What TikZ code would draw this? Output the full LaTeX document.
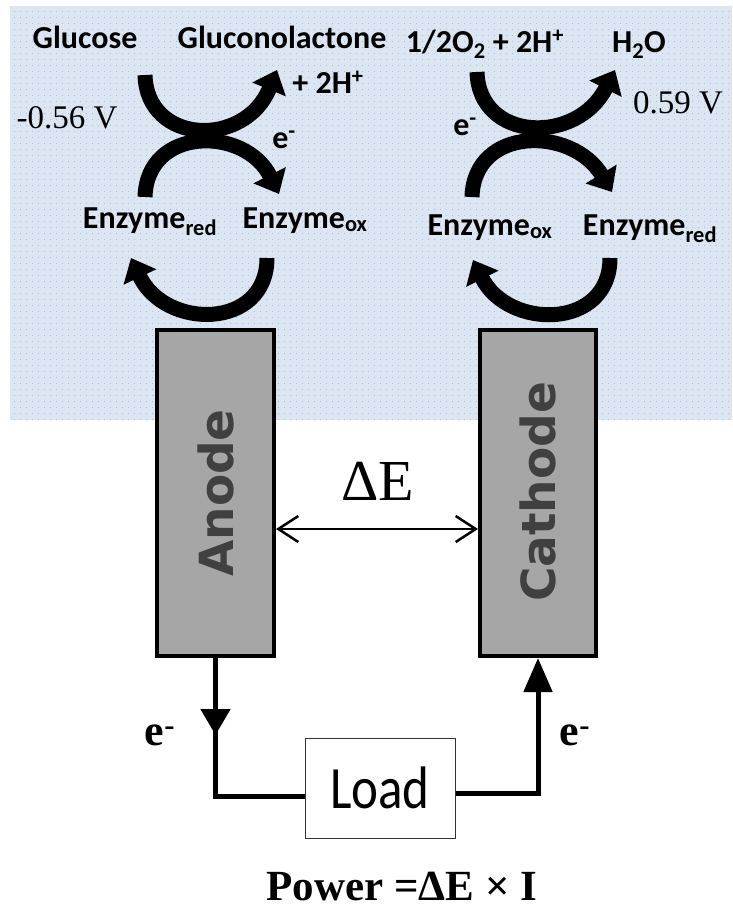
\documentclass[tikz,border=0pt]{standalone}
\usepackage{fontspec}
\setmainfont{Liberation Serif}
\newfontfamily\calfont{Carlito}
\newfontfamily\dvfont{DejaVu Sans}
\usetikzlibrary{arrows.meta,patterns.meta,calc,decorations.markings}
\definecolor{bgblue}{RGB}{220,230,242}
\definecolor{dotblue}{RGB}{150,178,218}
\definecolor{boxgray}{RGB}{166,166,166}
\definecolor{txtgray}{RGB}{64,64,64}
\tikzdeclarepattern{name=bgdots,type=uncolored,bottom left={(0pt,0pt)},top right={(6pt,6pt)},tile size={(6pt,6pt)},code={\fill (3pt,3pt) circle (0.55pt);}}
\begin{document}
\begin{tikzpicture}[x=1pt,y=-1pt,
  bigarrow/.style={line width=15pt,-{Triangle[length=21pt,width=35pt]}},
  elec/.style={draw=black,line width=4pt,fill=boxgray,minimum height=326pt,inner sep=0pt},
  eltext/.style={font=\dvfont\bfseries\fontsize{47}{50}\selectfont,text=txtgray,rotate=90},
  lbl/.style={font=\calfont\bfseries\fontsize{32}{36}\selectfont,anchor=base,inner sep=0pt},
  volt/.style={font=\fontsize{33}{36}\selectfont,anchor=base,inner sep=0pt},
  elab/.style={font=\bfseries\fontsize{44}{48}\selectfont,anchor=base,inner sep=0pt},
  wire/.style={line width=5pt}]
\useasboundingbox (0,0) rectangle (732,908);
% background solution
\fill[bgblue] (10,6) rectangle (732,420);
\fill[pattern=bgdots,pattern color=dotblue] (10,6) rectangle (732,420);

% electrodes
\node[elec,minimum width=117pt] (anode) at (215.5,493) {};
\node[elec,minimum width=116pt] (cathode) at (538,493) {};
\node[eltext] (anodet) at (216,493) {Anode};
\node[eltext] (cathodet) at (538,492) {Cathode};

% potential difference
\draw[line width=2.5pt,{Straight Barb[length=20pt,width=26pt]}-{Straight Barb[length=20pt,width=26pt]}]
  (anode.east |- 0,529) -- (cathode.west |- 0,529);
\node[font=\fontsize{58}{60}\selectfont,anchor=base,inner sep=0pt] (de) at (378,500) {ΔE};

% load circuit
\node[draw=black!80,line width=1pt,minimum width=150pt,minimum height=100pt,inner sep=0pt,
  font=\calfont\fontsize{60}{62}\selectfont] (load) at (380,788) {\scalebox{0.85}[1]{Load}};
\draw[wire,postaction={decorate},decoration={markings,mark=at position 77pt with {\arrow{Triangle[length=26pt,width=29pt]}}}]
  (anode.south) |- ($(load.west)+(0,8)$);
\draw[wire,-{Triangle[length=34pt,width=28pt]}] ($(load.east)+(0,5)$) -| (cathode.south);
\node[elab] (el) at (160,745) {e\textsuperscript{-}};
\node[elab] (er) at (575,745) {e\textsuperscript{-}};
\node[font=\bfseries\fontsize{43}{46}\selectfont,anchor=base,inner sep=0pt] (pw) at (402,900) {Power =ΔE × I};

% anode reactions
\node[lbl] (glu) at (85,48) {Glucose};
\node[lbl] (glul) at (282,48) {Gluconolactone};
\node[lbl] (h1) at (328,93) {+ 2H\textsuperscript{+}};
\node[volt] (v1) at (67,128) {-0.56 V};
\node[lbl] (e1) at (284,148) {e\textsuperscript{-}};
\node[lbl] (enr1) at (150,228) {Enzyme\textsubscript{red}};
\node[lbl] (eno1) at (305,228) {Enzyme\textsubscript{ox}};
\draw[bigarrow] (145,75) .. controls (147,145) and (245,148) .. (277,70);
\draw[bigarrow] (145,197) .. controls (147,126) and (245,126) .. (279,194);
\draw[bigarrow] (267,258) .. controls (267,330) and (165,330) .. (131,258);

% cathode reactions
\node[lbl] (o2) at (485,52) {1/2O\textsubscript{2} + 2H\textsuperscript{+}};
\node[lbl] (h2o) at (639,52) {H\textsubscript{2}O};
\node[volt] (v2) at (678,113) {0.59 V};
\node[lbl] (e2) at (465,135) {e\textsuperscript{-}};
\node[lbl] (eno2) at (490,235) {Enzyme\textsubscript{ox}};
\node[lbl] (enr2) at (650,235) {Enzyme\textsubscript{red}};
\draw[bigarrow] (477,72) .. controls (479,142) and (577,145) .. (615,70);
\draw[bigarrow] (472,197) .. controls (474,126) and (572,126) .. (612,192);
\draw[bigarrow] (610,258) .. controls (610,330) and (508,330) .. (473,260);
\end{tikzpicture}
\end{document}
